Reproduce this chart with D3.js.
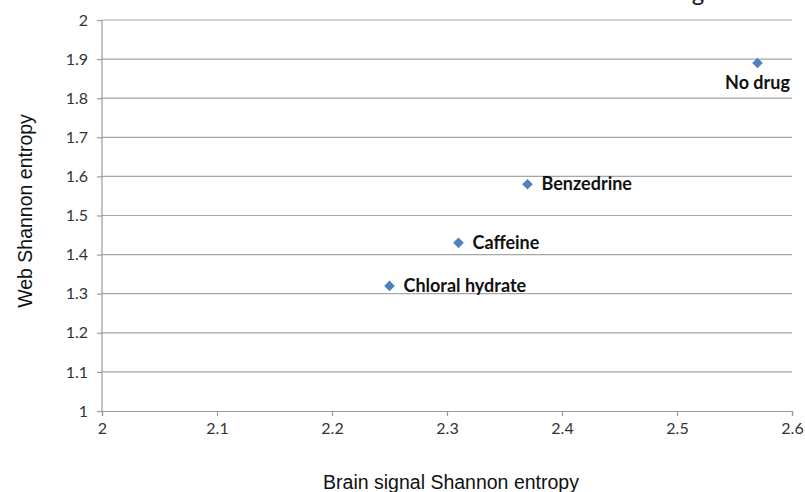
<!DOCTYPE html>
<html>
<head>
<meta charset="utf-8">
<script src="https://cdn.jsdelivr.net/npm/d3@7"></script>
<style>
  body { margin: 0; background: #fff; }
</style>
</head>
<body>
<div id="chart"></div>
<script>
// data
const drugs = ['No drug', 'Benzedrine', 'Caffeine', 'Chloral hydrate'];
const brainEntropy = [2.57, 2.37, 2.31, 2.25];
const webEntropy = [1.89, 1.58, 1.43, 1.32];
const xTicks = [2, 2.1, 2.2, 2.3, 2.4, 2.5, 2.6];
const yTicks = [1, 1.1, 1.2, 1.3, 1.4, 1.5, 1.6, 1.7, 1.8, 1.9, 2];

const width = 805, height = 492;
const margin = { top: 20, right: 13, bottom: 81, left: 102 };
const w = width - margin.left - margin.right;
const h = height - margin.top - margin.bottom;

const svg = d3.select('#chart').append('svg')
  .attr('width', width)
  .attr('height', height);

// cut-off title fragment at the very top edge
svg.append('text')
  .attr('x', 698).attr('y', 0.5)
  .attr('text-anchor', 'middle')
  .style('font-family', 'Lato, sans-serif')
  .style('font-size', '24px')
  .attr('fill', '#111')
  .text('g');

const g = svg.append('g')
  .attr('transform', 'translate(' + margin.left + ',' + margin.top + ')');

const x = d3.scaleLinear().domain([2, 2.6]).range([0, w]);
const y = d3.scaleLinear().domain([1, 2]).range([h, 0]);

// horizontal gridlines
g.selectAll('.grid')
  .data(yTicks.filter(d => d > 1))
  .enter()
  .append('line')
  .attr('x1', 0).attr('x2', w)
  .attr('y1', d => y(d)).attr('y2', d => y(d))
  .attr('stroke', '#a6a6a6')
  .attr('stroke-width', 1.2);

// X axis
const xAxis = g.append('g')
  .attr('transform', 'translate(0,' + h + ')')
  .call(d3.axisBottom(x).tickValues(xTicks).tickFormat(d3.format('')).tickSize(5).tickPadding(7));
xAxis.selectAll('path, line').attr('stroke', '#9a9a9a').attr('stroke-width', 1.2);

// Y axis
const yAxis = g.append('g')
  .call(d3.axisLeft(y).tickValues(yTicks).tickFormat(d3.format('')).tickSize(5).tickPadding(9));
yAxis.selectAll('path, line').attr('stroke', '#9a9a9a').attr('stroke-width', 1.2);
yAxis.select('.domain').attr('d', 'M0,' + h + 'V0');

[xAxis, yAxis].forEach(a => a.selectAll('text')
  .style('font-family', 'Lato, "Open Sans", sans-serif')
  .style('font-size', '16px')
  .attr('fill', '#333'));

// axis titles
svg.append('text')
  .attr('x', 451).attr('y', 489)
  .attr('text-anchor', 'middle')
  .style('font-family', '"Liberation Sans", Arial, sans-serif')
  .style('font-size', '19.5px')
  .attr('fill', '#111')
  .text('Brain signal Shannon entropy');

svg.append('text')
  .attr('transform', 'translate(32,' + 211 + ') rotate(-90)')
  .attr('text-anchor', 'middle')
  .style('font-family', '"Liberation Sans", Arial, sans-serif')
  .style('font-size', '19.5px')
  .attr('fill', '#111')
  .text('Web Shannon entropy');

// points
const pts = drugs.map((name, i) => ({ name: name, bx: brainEntropy[i], wy: webEntropy[i] }));
const diamond = d3.symbol().type(d3.symbolDiamond2).size(72);

g.selectAll('.pt')
  .data(pts)
  .enter()
  .append('path')
  .attr('class', 'pt')
  .attr('d', diamond)
  .attr('transform', d => 'translate(' + x(d.bx) + ',' + y(d.wy) + ')')
  .attr('fill', '#4f81bd');

// labels
g.selectAll('.lbl')
  .data(pts)
  .enter()
  .append('text')
  .attr('class', 'lbl')
  .attr('x', d => d.name === 'No drug' ? x(d.bx) : x(d.bx) + 14)
  .attr('y', d => d.name === 'No drug' ? y(d.wy) + 26 : y(d.wy) + 6)
  .attr('text-anchor', d => d.name === 'No drug' ? 'middle' : 'start')
  .style('font-family', 'Lato, "Open Sans", sans-serif')
  .style('font-weight', 'bold')
  .style('font-size', '18px')
  .attr('fill', '#111')
  .text(d => d.name);
</script>
</body>
</html>
